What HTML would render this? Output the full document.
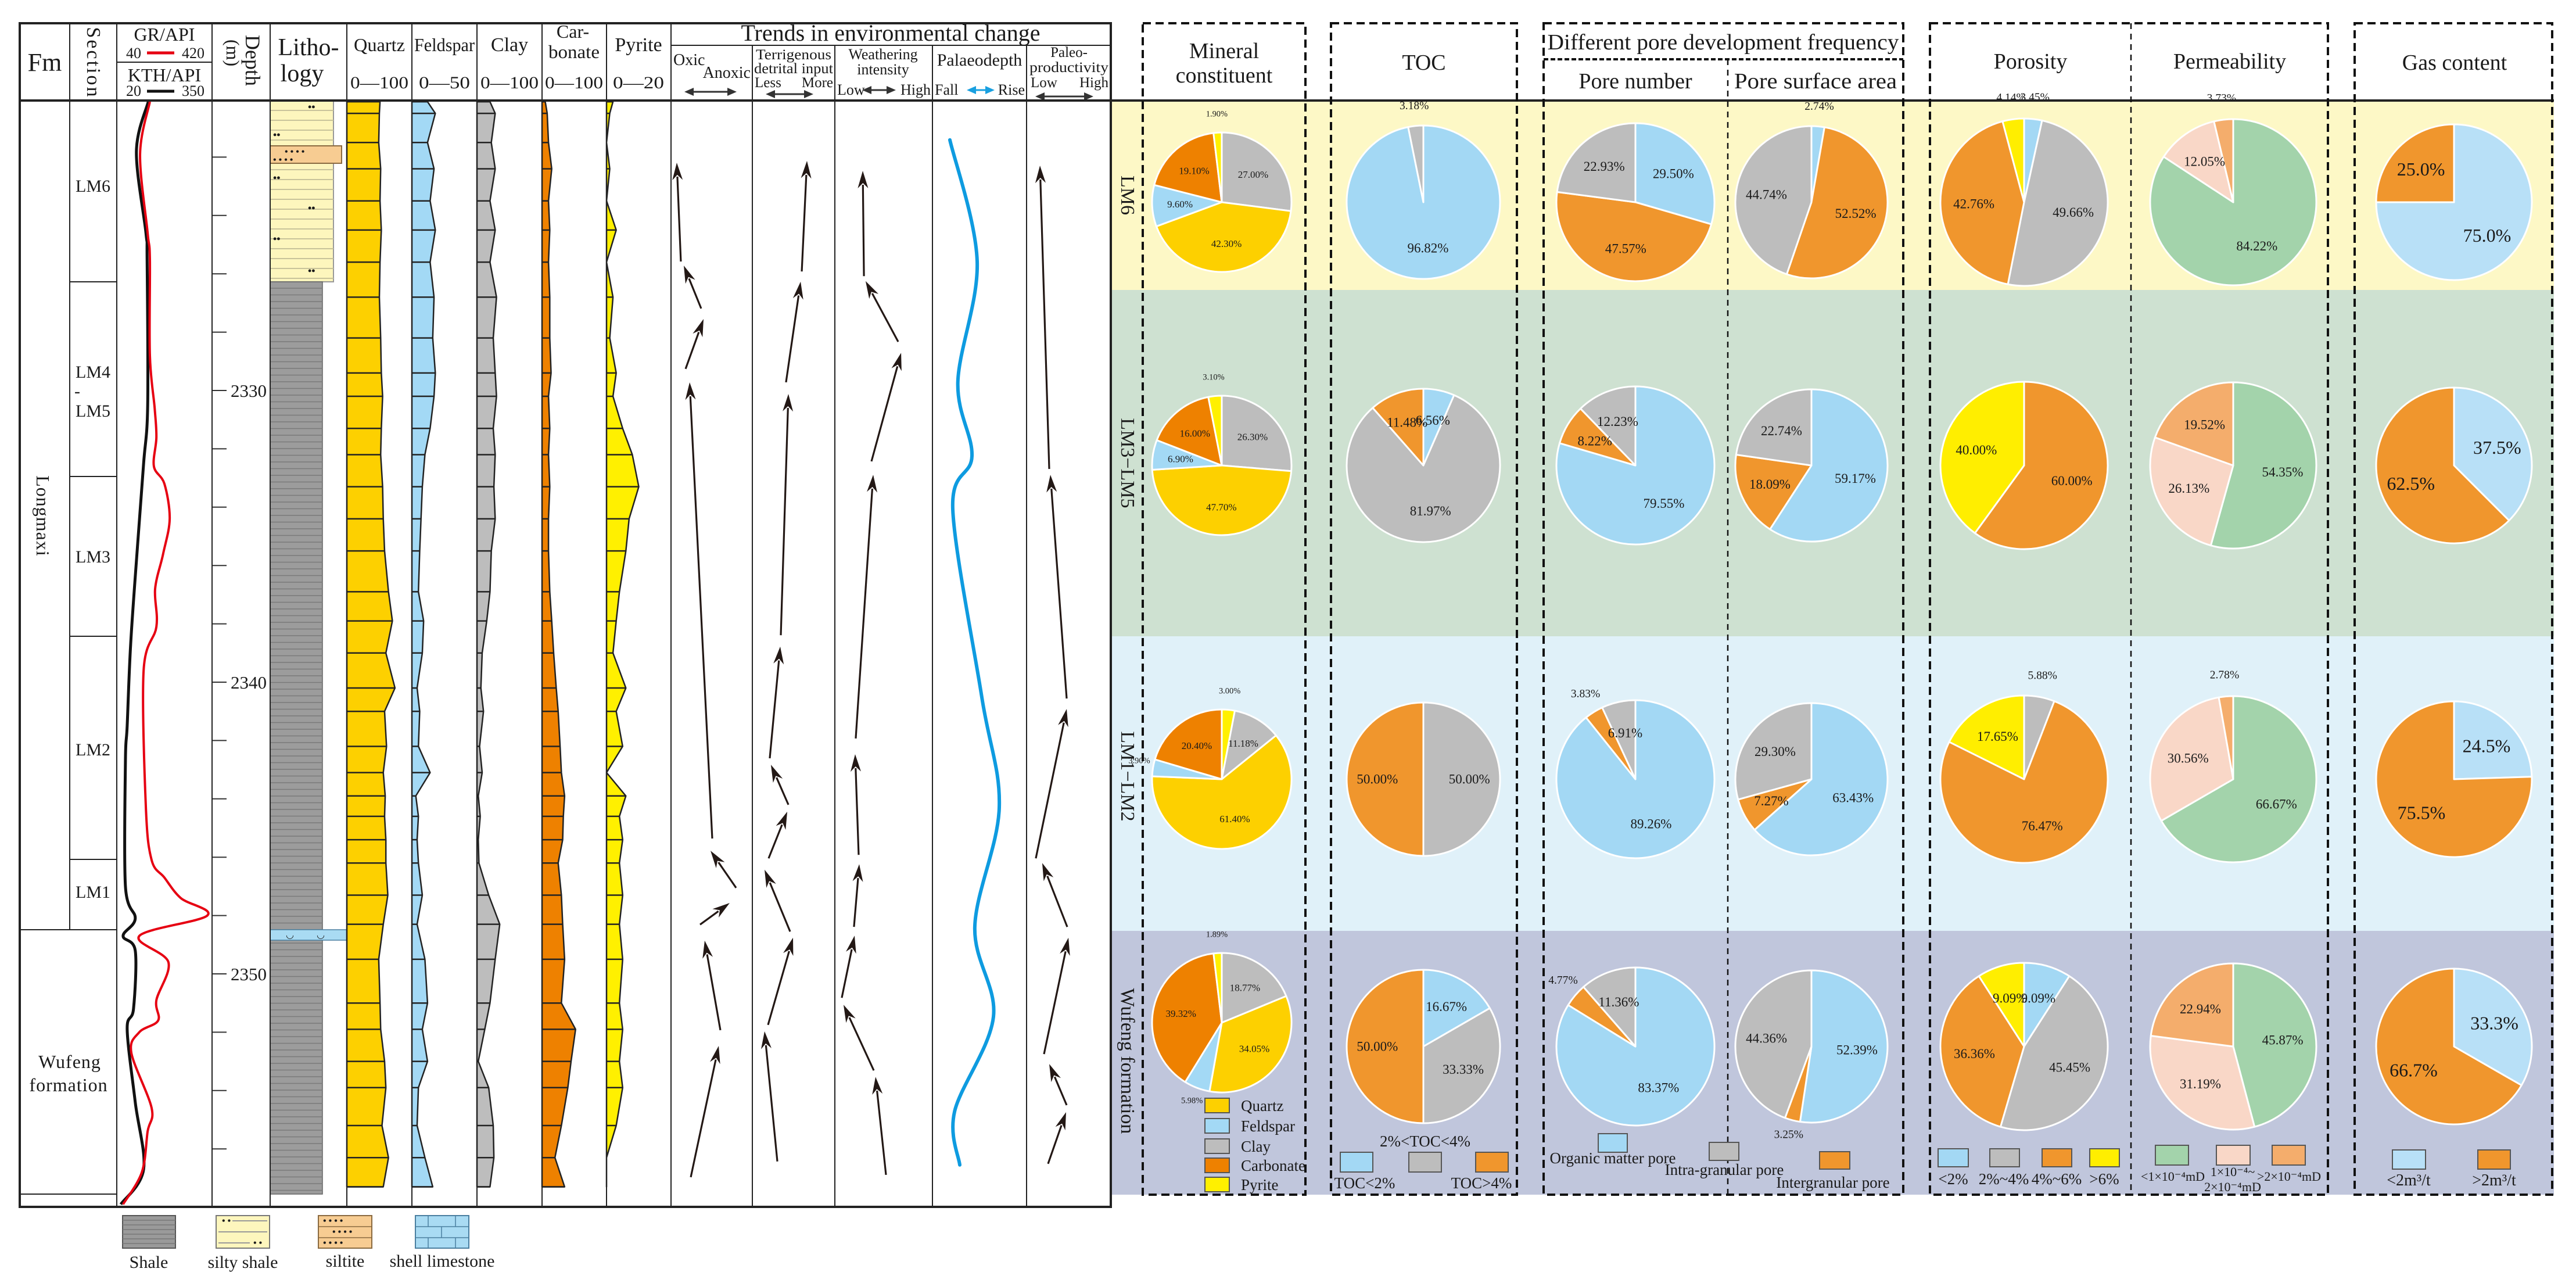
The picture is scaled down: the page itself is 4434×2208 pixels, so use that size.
<!DOCTYPE html>
<html>
<head>
<meta charset="utf-8">
<style>
  html,body{margin:0;padding:0;background:#fff;}
  svg{display:block;}
  text{font-family:"Liberation Serif",serif;fill:#1a1a1a;}
  .hd{font-size:34px;}
  .sm{font-size:26px;}
</style>
</head>
<body>
<svg id="fig" width="4434" height="2208" viewBox="0 0 4434 2208" xmlns="http://www.w3.org/2000/svg">
  <rect x="0" y="0" width="4434" height="2208" fill="#ffffff"/>
  <!-- right panel bands -->
  <g>
    <rect x="1913" y="173" width="2483" height="326" fill="#fdf8c6"/>
    <rect x="1913" y="499" width="2483" height="596" fill="#cee1d1"/>
    <rect x="1913" y="1095" width="2483" height="507" fill="#e0f1f9"/>
    <rect x="1913" y="1602" width="2483" height="454" fill="#c0c6dc"/>
  </g>
  <g id="layerLeft"></g>
  <g id="layerRight"></g>

  <!-- Left table frame -->
  <g stroke="#222" fill="none">
    <rect x="34" y="40" width="1878" height="2037" stroke-width="4"/>
    <line x1="34" y1="173" x2="4396" y2="173" stroke-width="4"/>
    <line x1="120" y1="40" x2="120" y2="1600" stroke-width="2"/>
    <line x1="201" y1="40" x2="201" y2="2077" stroke-width="2"/>
    <line x1="365" y1="40" x2="365" y2="2077" stroke-width="2"/>
    <line x1="465" y1="40" x2="465" y2="2077" stroke-width="2"/>
    <line x1="597" y1="40" x2="597" y2="2077" stroke-width="2"/>
    <line x1="709" y1="40" x2="709" y2="2077" stroke-width="2"/>
    <line x1="821" y1="40" x2="821" y2="2077" stroke-width="2"/>
    <line x1="933" y1="40" x2="933" y2="2077" stroke-width="2"/>
    <line x1="1044" y1="40" x2="1044" y2="2077" stroke-width="2"/>
    <line x1="1155" y1="40" x2="1155" y2="2077" stroke-width="2"/>
    <line x1="1295" y1="78" x2="1295" y2="2077" stroke-width="2"/>
    <line x1="1437" y1="78" x2="1437" y2="2077" stroke-width="2"/>
    <line x1="1605" y1="78" x2="1605" y2="2077" stroke-width="2"/>
    <line x1="1767" y1="78" x2="1767" y2="2077" stroke-width="2"/>
    <line x1="1155" y1="78" x2="1912" y2="78" stroke-width="2"/>
    <line x1="201" y1="107" x2="365" y2="107" stroke-width="2"/>
    <line x1="120" y1="485" x2="201" y2="485" stroke-width="2"/>
    <line x1="120" y1="820" x2="201" y2="820" stroke-width="2"/>
    <line x1="120" y1="1095" x2="201" y2="1095" stroke-width="2"/>
    <line x1="120" y1="1479" x2="201" y2="1479" stroke-width="2"/>
    <line x1="34" y1="1600" x2="201" y2="1600" stroke-width="2"/>
    <line x1="34" y1="2055" x2="201" y2="2055" stroke-width="2"/>
  </g>

  <!-- Left headers -->
  <g>
    <text x="77" y="122" font-size="44" text-anchor="middle">Fm</text>
    <text transform="translate(150,108) rotate(90)" font-size="34" text-anchor="middle" letter-spacing="3">Section</text>
    <text x="283" y="70" font-size="32" text-anchor="middle">GR/API</text>
    <text x="217" y="100" font-size="26">40</text>
    <line x1="253" y1="91" x2="300" y2="91" stroke="#e60012" stroke-width="5"/>
    <text x="313" y="100" font-size="26">420</text>
    <text x="283" y="140" font-size="32" text-anchor="middle">KTH/API</text>
    <text x="217" y="165" font-size="26">20</text>
    <line x1="253" y1="157" x2="300" y2="157" stroke="#111" stroke-width="5"/>
    <text x="313" y="165" font-size="26">350</text>
    <text transform="translate(423,60) rotate(90)" font-size="36">Depth</text>
    <text transform="translate(390,68) rotate(90)" font-size="32">(m)</text>
    <text x="531" y="95" font-size="42" text-anchor="middle">Litho-</text>
    <text x="520" y="140" font-size="42" text-anchor="middle">logy</text>
    <text x="653" y="88" font-size="32" text-anchor="middle" textLength="88" lengthAdjust="spacingAndGlyphs">Quartz</text>
    <text x="765" y="88" font-size="32" text-anchor="middle" textLength="104" lengthAdjust="spacingAndGlyphs">Feldspar</text>
    <text x="877" y="88" font-size="34" text-anchor="middle">Clay</text>
    <text x="986" y="65" font-size="32" text-anchor="middle">Car-</text>
    <text x="988" y="100" font-size="32" text-anchor="middle" textLength="88" lengthAdjust="spacingAndGlyphs">bonate</text>
    <text x="1099" y="88" font-size="34" text-anchor="middle">Pyrite</text>
    <text x="653" y="152" font-size="30" text-anchor="middle" textLength="100" lengthAdjust="spacingAndGlyphs">0—100</text>
    <text x="765" y="152" font-size="30" text-anchor="middle" textLength="88" lengthAdjust="spacingAndGlyphs">0—50</text>
    <text x="877" y="152" font-size="30" text-anchor="middle" textLength="100" lengthAdjust="spacingAndGlyphs">0—100</text>
    <text x="988" y="152" font-size="30" text-anchor="middle" textLength="100" lengthAdjust="spacingAndGlyphs">0—100</text>
    <text x="1099" y="152" font-size="30" text-anchor="middle" textLength="88" lengthAdjust="spacingAndGlyphs">0—20</text>
    <text x="1533" y="70" font-size="40" text-anchor="middle" textLength="515" lengthAdjust="spacingAndGlyphs">Trends in environmental change</text>
    <text x="1159" y="112" font-size="28">Oxic</text>
    <text x="1292" y="134" font-size="28" text-anchor="end">Anoxic</text>
    <text x="1366" y="102" font-size="25" text-anchor="middle" textLength="130" lengthAdjust="spacingAndGlyphs">Terrigenous</text>
    <text x="1366" y="126" font-size="25" text-anchor="middle" textLength="136" lengthAdjust="spacingAndGlyphs">detrital input</text>
    <text x="1299" y="150" font-size="25">Less</text>
    <text x="1434" y="150" font-size="25" text-anchor="end">More</text>
    <text x="1520" y="102" font-size="26" text-anchor="middle">Weathering</text>
    <text x="1520" y="128" font-size="26" text-anchor="middle">intensity</text>
    <text x="1441" y="163" font-size="26">Low</text>
    <text x="1602" y="163" font-size="26" text-anchor="end">High</text>
    <text x="1686" y="113" font-size="30" text-anchor="middle">Palaeodepth</text>
    <text x="1609" y="163" font-size="26">Fall</text>
    <text x="1764" y="163" font-size="26" text-anchor="end">Rise</text>
    <text x="1840" y="98" font-size="25" text-anchor="middle">Paleo-</text>
    <text x="1840" y="124" font-size="25" text-anchor="middle" textLength="136" lengthAdjust="spacingAndGlyphs">productivity</text>
    <text x="1774" y="150" font-size="25">Low</text>
    <text x="1908" y="150" font-size="25" text-anchor="end">High</text>
  </g>

  <!-- Section labels -->
  <g font-size="30">
    <text x="160" y="330" text-anchor="middle">LM6</text>
    <text x="160" y="650" text-anchor="middle">LM4</text>
    <text x="133" y="683" text-anchor="middle">-</text>
    <text x="160" y="717" text-anchor="middle">LM5</text>
    <text x="160" y="968" text-anchor="middle">LM3</text>
    <text x="160" y="1300" text-anchor="middle">LM2</text>
    <text x="160" y="1545" text-anchor="middle">LM1</text>
    <text transform="translate(63,888) rotate(90)" text-anchor="middle" font-size="32" letter-spacing="1">Longmaxi</text>
    <text x="120" y="1838" text-anchor="middle" font-size="32" letter-spacing="1">Wufeng</text>
    <text x="118" y="1878" text-anchor="middle" font-size="32" letter-spacing="1">formation</text>
  </g>

  <!-- Lithology legend -->
  <g>
    <g>
      <rect x="211" y="2092" width="91" height="56" fill="#9a9a9a" stroke="#555" stroke-width="2"/>
      <g id="shaleLegLines"></g>
      <text x="256" y="2182" font-size="30" text-anchor="middle">Shale</text>
    </g>
    <g>
      <rect x="372" y="2092" width="92" height="56" fill="#fdf6bd" stroke="#777" stroke-width="2"/>
      <line x1="400" y1="2101" x2="460" y2="2101" stroke="#999" stroke-width="2"/>
      <line x1="376" y1="2120" x2="460" y2="2120" stroke="#999" stroke-width="2"/>
      <line x1="376" y1="2139" x2="430" y2="2139" stroke="#999" stroke-width="2"/>
      <text x="382" y="2106" font-size="16" font-weight="bold">• •</text>
      <text x="436" y="2144" font-size="16" font-weight="bold">• •</text>
      <text x="418" y="2182" font-size="30" text-anchor="middle">silty shale</text>
    </g>
    <g>
      <rect x="548" y="2092" width="92" height="56" fill="#f7cc92" stroke="#8a6a40" stroke-width="2"/>
      <line x1="548" y1="2111" x2="640" y2="2111" stroke="#8a6a40" stroke-width="1.5"/>
      <line x1="548" y1="2130" x2="640" y2="2130" stroke="#8a6a40" stroke-width="1.5"/>
      <text x="556" y="2106" font-size="16" font-weight="bold">• •  • •</text>
      <text x="572" y="2125" font-size="16" font-weight="bold">• •  • •</text>
      <text x="556" y="2144" font-size="16" font-weight="bold">• •  • •</text>
      <text x="594" y="2180" font-size="30" text-anchor="middle">siltite</text>
    </g>
    <g>
      <rect x="715" y="2092" width="92" height="56" fill="#a9dbf3" stroke="#4a7fa0" stroke-width="2"/>
      <line x1="715" y1="2111" x2="807" y2="2111" stroke="#4a7fa0" stroke-width="1.5"/>
      <line x1="715" y1="2130" x2="807" y2="2130" stroke="#4a7fa0" stroke-width="1.5"/>
      <line x1="737" y1="2092" x2="737" y2="2111" stroke="#4a7fa0" stroke-width="1.5"/>
      <line x1="784" y1="2092" x2="784" y2="2111" stroke="#4a7fa0" stroke-width="1.5"/>
      <line x1="760" y1="2111" x2="760" y2="2130" stroke="#4a7fa0" stroke-width="1.5"/>
      <line x1="737" y1="2130" x2="737" y2="2148" stroke="#4a7fa0" stroke-width="1.5"/>
      <line x1="784" y1="2130" x2="784" y2="2148" stroke="#4a7fa0" stroke-width="1.5"/>
      <text x="761" y="2180" font-size="30" text-anchor="middle">shell limestone</text>
    </g>
  </g>

  <!-- Right panel dashed boxes -->
  <g fill="none" stroke="#111">
    <rect x="1967" y="40" width="280" height="2016" stroke-width="4" stroke-dasharray="14 8"/>
    <rect x="2291" y="40" width="320" height="2016" stroke-width="4" stroke-dasharray="14 8"/>
    <rect x="2657" y="40" width="619" height="2016" stroke-width="4" stroke-dasharray="14 8"/>
    <rect x="3322" y="40" width="685" height="2016" stroke-width="4" stroke-dasharray="14 8"/>
    <rect x="4053" y="40" width="340" height="2016" stroke-width="4" stroke-dasharray="14 8"/>
    <line x1="2974" y1="102" x2="2974" y2="2056" stroke-width="2.5" stroke-dasharray="10 8"/>
    <line x1="3668" y1="40" x2="3668" y2="2056" stroke-width="2.5" stroke-dasharray="10 8"/>
    <line x1="2657" y1="102" x2="3276" y2="102" stroke-width="4" stroke-dasharray="8 4"/>
  </g>
  <g font-size="38">
    <text x="2107" y="100" text-anchor="middle">Mineral</text>
    <text x="2107" y="142" text-anchor="middle">constituent</text>
    <text x="2451" y="120" text-anchor="middle">TOC</text>
    <text x="2966" y="85" text-anchor="middle" textLength="605" lengthAdjust="spacingAndGlyphs">Different pore development frequency</text>
    <text x="2815" y="152" text-anchor="middle">Pore number</text>
    <text x="3125" y="152" text-anchor="middle" textLength="280" lengthAdjust="spacingAndGlyphs">Pore surface area</text>
    <text x="3495" y="118" text-anchor="middle">Porosity</text>
    <text x="3838" y="118" text-anchor="middle">Permeability</text>
    <text x="4225" y="120" text-anchor="middle">Gas content</text>
  </g>
  <g font-size="34">
    <text transform="translate(1930,336) rotate(90)" text-anchor="middle">LM6</text>
    <text transform="translate(1930,797) rotate(90)" text-anchor="middle">LM3−LM5</text>
    <text transform="translate(1930,1336) rotate(90)" text-anchor="middle">LM1−LM2</text>
    <text transform="translate(1930,1826) rotate(90)" text-anchor="middle">Wufeng formation</text>
  </g>

  <!-- Pie legends -->
  <g font-size="27">
    <rect x="2074" y="1890" width="42" height="25" fill="#fdd000" stroke="#555" stroke-width="2"/><text x="2136" y="1912">Quartz</text>
    <rect x="2074" y="1925" width="42" height="25" fill="#a3d9f5" stroke="#555" stroke-width="2"/><text x="2136" y="1947">Feldspar</text>
    <rect x="2074" y="1960" width="42" height="25" fill="#bdbdbd" stroke="#555" stroke-width="2"/><text x="2136" y="1982">Clay</text>
    <rect x="2074" y="1993" width="42" height="25" fill="#ee8100" stroke="#555" stroke-width="2"/><text x="2136" y="2015">Carbonate</text>
    <rect x="2074" y="2026" width="42" height="25" fill="#fff000" stroke="#555" stroke-width="2"/><text x="2136" y="2048">Pyrite</text>
  </g>
  <g font-size="27">
    <rect x="2307" y="1983" width="56" height="34" fill="#a3d8f4" stroke="#555" stroke-width="2"/>
    <rect x="2425" y="1983" width="56" height="34" fill="#bdbdbd" stroke="#555" stroke-width="2"/>
    <rect x="2540" y="1983" width="56" height="34" fill="#f0962d" stroke="#555" stroke-width="2"/>
    <text x="2453" y="1973" text-anchor="middle">2%&lt;TOC&lt;4%</text>
    <text x="2349" y="2045" text-anchor="middle">TOC&lt;2%</text>
    <text x="2550" y="2045" text-anchor="middle">TOC&gt;4%</text>
  </g>
  <g font-size="27">
    <rect x="2751" y="1951" width="50" height="32" fill="#a3d8f4" stroke="#555" stroke-width="2"/>
    <text x="2776" y="2002" text-anchor="middle">Organic matter pore</text>
    <rect x="2942" y="1966" width="51" height="31" fill="#bdbdbd" stroke="#555" stroke-width="2"/>
    <text x="2968" y="2022" text-anchor="middle">Intra-granular pore</text>
    <rect x="3132" y="1982" width="52" height="30" fill="#f0962d" stroke="#555" stroke-width="2"/>
    <text x="3155" y="2044" text-anchor="middle">Intergranular pore</text>
  </g>
  <g font-size="27">
    <rect x="3336" y="1977" width="52" height="31" fill="#a3d8f4" stroke="#555" stroke-width="2"/>
    <rect x="3425" y="1977" width="51" height="31" fill="#bdbdbd" stroke="#555" stroke-width="2"/>
    <rect x="3515" y="1977" width="51" height="31" fill="#f0962d" stroke="#555" stroke-width="2"/>
    <rect x="3597" y="1977" width="51" height="31" fill="#ffee00" stroke="#555" stroke-width="2"/>
    <text x="3362" y="2038" text-anchor="middle">&lt;2%</text>
    <text x="3449" y="2038" text-anchor="middle">2%~4%</text>
    <text x="3540" y="2038" text-anchor="middle">4%~6%</text>
    <text x="3622" y="2038" text-anchor="middle">&gt;6%</text>
  </g>
  <g font-size="22">
    <rect x="3710" y="1971" width="57" height="34" fill="#a3d3ab" stroke="#555" stroke-width="2"/>
    <rect x="3815" y="1971" width="58" height="34" fill="#f9d7c7" stroke="#555" stroke-width="2"/>
    <rect x="3911" y="1971" width="57" height="34" fill="#f4ad6c" stroke="#555" stroke-width="2"/>
    <text x="3740" y="2032" text-anchor="middle">&lt;1×10⁻⁴mD</text>
    <text x="3843" y="2024" text-anchor="middle">1×10⁻⁴~</text>
    <text x="3843" y="2050" text-anchor="middle">2×10⁻⁴mD</text>
    <text x="3940" y="2032" text-anchor="middle">&gt;2×10⁻⁴mD</text>
  </g>
  <g font-size="28">
    <rect x="4118" y="1979" width="57" height="33" fill="#b8e0f7" stroke="#555" stroke-width="2"/>
    <rect x="4265" y="1979" width="56" height="33" fill="#f0962d" stroke="#555" stroke-width="2"/>
    <text x="4146" y="2040" text-anchor="middle">&lt;2m³/t</text>
    <text x="4293" y="2040" text-anchor="middle">&gt;2m³/t</text>
  </g>
</svg>

<script>
// ---------- DATA ----------
// Sample depths (m) for the mineral columns
const sampleDepths = [2320.1,2320.5,2321.5,2322.4,2323.5,2324.5,2325.6,2326.8,2328.2,2329.4,2330.2,2331.3,2332.2,2333.3,2334.4,2335.5,2336.9,2337.9,2339.0,2340.2,2341.0,2342.2,2343.1,2343.9,2344.6,2345.4,2346.2,2347.3,2348.3,2349.5,2351.0,2351.9,2353.0,2353.9,2355.2,2356.3,2357.3];
const quartzPct    = [51,50,49,52,51,53,51,50,52,53,55,53,52,55,56,58,64,70,60,74,58,61,56,59,58,60,60,63,56,49,51,52,58,60,54,64,56];
const feldsparPct  = [12,18,12,17,14,18,14,17,16,18,17,14,10,8,7,6,5,9,8,4,6,5,14,3,5,4,5,8,4,10,12,8,12,5,4,10,16];
const clayPct      = [20,28,22,28,20,28,20,30,25,28,30,25,28,26,28,22,20,15,8,6,10,4,8,2,5,2,3,18,35,28,20,12,2,18,25,26,20];
const carbonatePct = [5,8,10,15,10,12,10,12,12,14,10,12,10,12,10,10,12,15,18,22,25,28,30,35,33,32,25,30,32,35,30,52,45,40,30,20,35];
const pyritePct    = [2,1,0,1,0,3,0,2,1,3,2,5,8,10,7,6,4,3,2,6,3,5,0,6,4,5,4,5,4,5,4,5,4,5,3,0,0];
// Logs
const grDepths = [2320.1,2321.9,2324.6,2325.5,2328.8,2330.6,2331.6,2332.6,2333.2,2334.4,2335.6,2336.8,2338.1,2339.6,2344.3,2346.1,2346.7,2347.4,2348.0,2348.7,2349.6,2350.9,2351.6,2352.0,2352.7,2354.6,2355.4,2356.8,2357.9];
const grValues = [172,133,163,172,172,191,198,188,230,251,225,193,198,147,156,179,230,295,401,130,246,198,205,130,98,179,163,140,65];
const kthDepths = [2320.1,2321.8,2324.6,2325.5,2330.5,2332.5,2335.3,2338.7,2341.5,2342.7,2347.0,2348.1,2348.7,2349.2,2351.2,2351.9,2354.4,2356.7,2357.9];
const kthValues = [129,88,121,125,127,113,92,68,56,50,50,84,42,84,78,56,84,113,34];
const depthTicks = [2322,2324,2326,2328,2330,2332,2334,2336,2338,2340,2342,2344,2346,2348,2350,2352,2354,2356];
const depthLabels = [2330,2340,2350];
// Trend arrows: [fromDepth, fromPos(0-1), toDepth, toPos(0-1)]
const redoxArrows = [[2325.58,.121,2322.19,.071],[2327.19,.371,2325.72,.157],[2329.26,.179,2327.55,.400],[2345.36,.507,2329.72,.229],[2347.05,.800,2345.78,.486],[2348.31,.357,2347.57,.721],[2351.93,.607,2348.86,.414],[2356.97,.243,2352.47,.586]];
const terrigenousArrows = [[2325.92,.599,2322.13,.662],[2329.72,.408,2326.27,.585],[2338.39,.345,2330.12,.437],[2342.61,.211,2338.78,.338],[2344.20,.437,2342.83,.225],[2346.04,.197,2344.44,.423],[2348.55,.458,2346.43,.148],[2351.75,.190,2348.76,.493],[2356.43,.303,2351.97,.148]];
const weatheringArrows = [[2326.08,.298,2322.47,.286],[2328.33,.649,2326.25,.315],[2332.43,.375,2328.71,.679],[2341.93,.214,2332.89,.393],[2345.92,.244,2342.47,.208],[2348.39,.196,2346.24,.250],[2350.82,.071,2348.69,.202],[2353.31,.399,2351.06,.089],[2356.89,.524,2353.53,.417]];
const productivityArrows = [[2332.69,.269,2322.29,.159],[2340.56,.476,2332.89,.283],[2346.04,.110,2340.92,.476],[2348.39,.483,2346.20,.186],[2352.75,.207,2348.76,.497],[2354.50,.476,2353.09,.269],[2356.51,.255,2354.74,.469]];
const palaeoDepths = [2321.41,2325.58,2329.72,2332.25,2334.08,2340.52,2344.30,2348.39,2351.47,2354.72,2356.55];
const palaeoLevel  = [.185,.475,.27,.42,.216,.525,.71,.45,.648,.235,.29];
// Pie data (bands: LM6, LM3-LM5, LM1-LM2, Wufeng)
const mineralCats = ['Quartz','Feldspar','Clay','Carbonate','Pyrite'];
const mineralLM6 = [42.30,9.60,27.00,19.10,1.90];
const mineralLM35 = [47.70,6.90,26.30,16.00,3.10];
const mineralLM12 = [61.40,3.90,11.18,20.40,3.00];
const mineralWF = [34.05,5.98,18.77,39.32,1.89];
const tocCats = ['TOC<2%','2%<TOC<4%','TOC>4%'];
const tocLM6 = [96.82,3.18,0];
const tocLM35 = [6.56,81.97,11.48];
const tocLM12 = [0,50.00,50.00];
const tocWF = [16.67,33.33,50.00];
const poreCats = ['Organic matter pore','Intra-granular pore','Intergranular pore'];
const poreNumLM6 = [29.50,22.93,47.57];
const poreNumLM35 = [79.55,12.23,8.22];
const poreNumLM12 = [89.26,6.91,3.83];
const poreNumWF = [83.37,11.36,4.77];
const poreAreaLM6 = [2.74,44.74,52.52];
const poreAreaLM35 = [59.17,22.74,18.09];
const poreAreaLM12 = [63.43,29.30,7.27];
const poreAreaWF = [52.39,44.36,3.25];
const porosityCats = ['<2%','2%~4%','4%~6%','>6%'];
const porosityLM6 = [3.45,49.66,42.76,4.14];
const porosityLM35 = [0,0,60.00,40.00];
const porosityLM12 = [0,5.88,76.47,17.65];
const porosityWF = [9.09,45.45,36.36,9.09];
const permCats = ['<1e-4 mD','1e-4~2e-4 mD','>2e-4 mD'];
const permLM6 = [84.22,12.05,3.73];
const permLM35 = [54.35,26.13,19.52];
const permLM12 = [66.67,30.56,2.78];
const permWF = [45.87,31.19,22.94];
const gasCats = ['<2m3/t','>2m3/t'];
const gasLM6 = [75.0,25.0];
const gasLM35 = [37.5,62.5];
const gasLM12 = [24.5,75.5];
const gasWF = [33.3,66.7];

// ---------- DRAWING ----------
const NS = 'http://www.w3.org/2000/svg';
const L = document.getElementById('layerLeft');
const R = document.getElementById('layerRight');
function mk(tag, parent){ const e=document.createElementNS(NS,tag); parent.appendChild(e); return e; }
function yOf(d){ return 1174 + (d-2340)*50.2; }

// Lithology
(function(){
  let el = mk('rect', L);
  el.setAttribute('x',465); el.setAttribute('y',174); el.setAttribute('width',109); el.setAttribute('height',311);
  el.setAttribute('fill','#fdf6bd'); el.setAttribute('stroke','#999'); el.setAttribute('stroke-width',2);
  
  
  for(let y=190;y<485;y+=17){
    const ln = mk('line', L);
    ln.setAttribute('x1',465); ln.setAttribute('x2',574); ln.setAttribute('y1',y); ln.setAttribute('y2',y);
    ln.setAttribute('stroke','#c8c39a'); ln.setAttribute('stroke-width',2);
    
    
  }
  const dots=[[530,190],[470,238],[470,312],[530,364],[470,417],[530,472]];
  dots.forEach(p=>{ const t=mk('text',L); t.setAttribute('x',p[0]); t.setAttribute('y',p[1]); t.setAttribute('font-size',18); t.setAttribute('font-weight','bold'); t.textContent='••';
    
     });
  el = mk('rect', L);
  el.setAttribute('x',465); el.setAttribute('y',251); el.setAttribute('width',123); el.setAttribute('height',30);
  el.setAttribute('fill','#f7cc92'); el.setAttribute('stroke','#8a6a40'); el.setAttribute('stroke-width',2);
  
  
  const sd=mk('text',L); sd.setAttribute('x',490); sd.setAttribute('y',266); sd.setAttribute('font-size',16); sd.setAttribute('font-weight','bold'); sd.textContent='• •   • •';
  
  
  const sd2=mk('text',L); sd2.setAttribute('x',470); sd2.setAttribute('y',280); sd2.setAttribute('font-size',16); sd2.setAttribute('font-weight','bold'); sd2.textContent='• •   • •';
  
  
  el = mk('rect', L);
  el.setAttribute('x',465); el.setAttribute('y',485); el.setAttribute('width',90); el.setAttribute('height',1570);
  el.setAttribute('fill','#9c9c9c'); el.setAttribute('stroke','#666'); el.setAttribute('stroke-width',1.5);
  
  
  for(let y=496;y<2055;y+=11.5){
    const ln = mk('line', L);
    ln.setAttribute('x1',465); ln.setAttribute('x2',555); ln.setAttribute('y1',y); ln.setAttribute('y2',y);
    ln.setAttribute('stroke','#7a7a7a'); ln.setAttribute('stroke-width',1.6);
    
    
  }
  el = mk('rect', L);
  el.setAttribute('x',465); el.setAttribute('y',1600); el.setAttribute('width',132); el.setAttribute('height',18);
  el.setAttribute('fill','#a9dbf3'); el.setAttribute('stroke','#4a7fa0'); el.setAttribute('stroke-width',1.5);
  
  
  [492,545].forEach(x=>{ const t=mk('text',L); t.setAttribute('x',x); t.setAttribute('y',1614); t.setAttribute('font-size',16); t.textContent='◡';
    
     });
  const g=document.getElementById('shaleLegLines');
  for(let y=2100;y<2148;y+=8){ const ln=mk('line',g); ln.setAttribute('x1',211); ln.setAttribute('x2',302); ln.setAttribute('y1',y); ln.setAttribute('y2',y); ln.setAttribute('stroke','#777'); ln.setAttribute('stroke-width',1.5);
    
     }
})();

// Depth ticks
depthTicks.forEach(d=>{
  const t = mk('line', L);
  t.setAttribute('x1',365); t.setAttribute('x2',390); t.setAttribute('y1',yOf(d)); t.setAttribute('y2',yOf(d));
  t.setAttribute('stroke','#333'); t.setAttribute('stroke-width',2);
  
  
});
depthLabels.forEach(d=>{
  const t = mk('text', L);
  t.setAttribute('x',397); t.setAttribute('y',yOf(d)+11); t.setAttribute('font-size',31); t.textContent=d;
  
  
});

// Mineral columns
function drawColumn(vals, x0, w, max, fill, name){
  const pts=[[x0,yOf(sampleDepths[0])]];
  vals.forEach((v,i)=>pts.push([x0+v*w/max, yOf(sampleDepths[i])]));
  pts.push([x0,yOf(sampleDepths[sampleDepths.length-1])]);
  const p = mk('polygon', L);
  p.setAttribute('points', pts.map(q=>q.join(',')).join(' '));
  p.setAttribute('fill',fill); p.setAttribute('stroke','#222'); p.setAttribute('stroke-width',2.5); p.setAttribute('stroke-linejoin','round');
  
  
  vals.forEach((v,i)=>{
    const ln = mk('line', L);
    ln.setAttribute('x1',x0); ln.setAttribute('x2',x0+v*w/max); ln.setAttribute('y1',yOf(sampleDepths[i])); ln.setAttribute('y2',yOf(sampleDepths[i]));
    ln.setAttribute('stroke','#222'); ln.setAttribute('stroke-width',2.5);
    
    
  });
}
drawColumn(quartzPct, 597, 112, 100, '#fdd000', 'quartz');
drawColumn(feldsparPct, 709, 112, 50, '#a3d9f5', 'feldspar');
drawColumn(clayPct, 821, 112, 100, '#bdbdbd', 'clay');
drawColumn(carbonatePct, 933, 111, 100, '#ee8100', 'carbonate');
drawColumn(pyritePct, 1044, 111, 20, '#fff000', 'pyrite');

// Logs
function smoothPath(pts){
  let d='M'+pts[0][0]+','+pts[0][1];
  for(let i=0;i<pts.length-1;i++){
    const p0=pts[Math.max(0,i-1)], p1=pts[i], p2=pts[i+1], p3=pts[Math.min(pts.length-1,i+2)];
    const c1=[p1[0]+(p2[0]-p0[0])/6, p1[1]+(p2[1]-p0[1])/6];
    const c2=[p2[0]-(p3[0]-p1[0])/6, p2[1]-(p3[1]-p1[1])/6];
    d+=' C'+c1[0].toFixed(1)+','+c1[1].toFixed(1)+' '+c2[0].toFixed(1)+','+c2[1].toFixed(1)+' '+p2[0].toFixed(1)+','+p2[1].toFixed(1);
  }
  return d;
}
const kthPts = kthValues.map((v,i)=>[201+(v-20)/330*164, yOf(kthDepths[i])]);
const kth = mk('path', L);
kth.setAttribute('d', smoothPath(kthPts)); kth.setAttribute('fill','none'); kth.setAttribute('stroke','#111'); kth.setAttribute('stroke-width',5);


const grPts = grValues.map((v,i)=>[201+(v-40)/380*164, yOf(grDepths[i])]);
const gr = mk('path', L);
gr.setAttribute('d', smoothPath(grPts)); gr.setAttribute('fill','none'); gr.setAttribute('stroke','#e60012'); gr.setAttribute('stroke-width',4);



// Arrows
function arrow(x1,y1,x2,y2,parent,color,name){
  const dx=x2-x1, dy=y2-y1, len=Math.hypot(dx,dy), ux=dx/len, uy=dy/len;
  const hl=30, hw=9;
  const bx=x2-ux*hl, by=y2-uy*hl;
  const ln = mk('line', parent);
  ln.setAttribute('x1',x1); ln.setAttribute('y1',y1); ln.setAttribute('x2',bx+ux*6); ln.setAttribute('y2',by+uy*6);
  ln.setAttribute('stroke',color); ln.setAttribute('stroke-width',3.2);
  
  
  const hd = mk('polygon', parent);
  hd.setAttribute('points', x2+','+y2+' '+(bx-uy*hw)+','+(by+ux*hw)+' '+(x2-ux*hl*0.7)+','+(y2-uy*hl*0.7)+' '+(bx+uy*hw)+','+(by-ux*hw));
  hd.setAttribute('fill',color);
  
  
}
function drawTrend(arr, x0, w, name){
  arr.forEach(a=>arrow(x0+a[1]*w, yOf(a[0]), x0+a[3]*w, yOf(a[2]), L, '#231815', name));
}
drawTrend(redoxArrows, 1155, 140, 'redox-arrow');
drawTrend(terrigenousArrows, 1295, 142, 'terrigenous-arrow');
drawTrend(weatheringArrows, 1437, 168, 'weathering-arrow');
drawTrend(productivityArrows, 1767, 145, 'productivity-arrow');

// header double arrows
function dbl(x1,x2,y,color,name){
  const ln=mk('line',L); ln.setAttribute('x1',x1+8); ln.setAttribute('x2',x2-8); ln.setAttribute('y1',y); ln.setAttribute('y2',y); ln.setAttribute('stroke',color); ln.setAttribute('stroke-width',3);
  
  
  const h1=mk('polygon',L); h1.setAttribute('points',x1+','+y+' '+(x1+16)+','+(y-7)+' '+(x1+16)+','+(y+7)); h1.setAttribute('fill',color);
  
  
  const h2=mk('polygon',L); h2.setAttribute('points',x2+','+y+' '+(x2-16)+','+(y-7)+' '+(x2-16)+','+(y+7)); h2.setAttribute('fill',color);
  
  
}
dbl(1178,1268,158,'#333','redox-scale-arrow');
dbl(1318,1400,162,'#333','terrigenous-scale-arrow');
dbl(1484,1542,155,'#333','weathering-scale-arrow');
dbl(1664,1712,155,'#19a0e0','palaeodepth-scale-arrow');
dbl(1782,1882,166,'#333','productivity-scale-arrow');

// Palaeodepth curve
const pdPts = palaeoLevel.map((v,i)=>[1605+v*162, yOf(palaeoDepths[i])]);
const pd = mk('path', L);
pd.setAttribute('d', smoothPath(pdPts)); pd.setAttribute('fill','none'); pd.setAttribute('stroke','#0e9be0'); pd.setAttribute('stroke-width',6); pd.setAttribute('stroke-linecap','round');



// Pies
function pie(values, colors, order, cx, cy, r, fs, dec, name){
  const total = values.reduce((a,b)=>a+b,0);
  let acc = 0;
  order.forEach(i=>{
    const v = values[i];
    if(v<=0){ return; }
    const a0 = acc/total*2*Math.PI - Math.PI/2;
    acc += v;
    const a1 = acc/total*2*Math.PI - Math.PI/2;
    const s = mk('path', R);
    if(v>=total-1e-6){
      s.setAttribute('d','M'+(cx-r)+','+cy+' a'+r+','+r+' 0 1,0 '+(2*r)+',0 a'+r+','+r+' 0 1,0 '+(-2*r)+',0');
    } else {
      const large = (a1-a0)>Math.PI?1:0;
      s.setAttribute('d','M'+cx+','+cy+' L'+(cx+r*Math.cos(a0)).toFixed(2)+','+(cy+r*Math.sin(a0)).toFixed(2)+' A'+r+','+r+' 0 '+large+',1 '+(cx+r*Math.cos(a1)).toFixed(2)+','+(cy+r*Math.sin(a1)).toFixed(2)+' Z');
    }
    s.setAttribute('fill', colors[i]); s.setAttribute('stroke','#ffffff'); s.setAttribute('stroke-width',3); s.setAttribute('stroke-linejoin','round');
    
    
  });
  acc = 0;
  order.forEach(i=>{
    const v = values[i];
    if(v<=0){ return; }
    const am = (acc+v/2)/total*2*Math.PI - Math.PI/2;
    acc += v;
    const small = v/total < 0.065;
    const rr = small ? r*1.2 : r*0.6;
    const t = mk('text', R);
    t.setAttribute('x',(cx+rr*Math.cos(am)).toFixed(1));
    t.setAttribute('y',(cy+rr*Math.sin(am)-(small&&Math.sin(am)<0?8:0)).toFixed(1));
    t.setAttribute('font-size', small? fs*0.85 : fs);
    t.setAttribute('text-anchor','middle'); t.setAttribute('dominant-baseline','central');
    t.textContent = v.toFixed(dec)+'%';
    
    
  });
}
const bandY = [348,801,1341,1801];
const minColors = ['#fdd000','#a3d9f5','#bdbdbd','#ee8100','#fff000'];
const tocColors = ['#a3d8f4','#bdbdbd','#f0962d'];
const poreColors = ['#a3d8f4','#bdbdbd','#f0962d'];
const poroColors = ['#a3d8f4','#bdbdbd','#f0962d','#ffee00'];
const permColors = ['#a3d3ab','#f9d7c7','#f4ad6c'];
const gasColors = ['#b8e0f7','#f0962d'];
const mStd=[2,0,1,3,4], mAlt=[4,2,0,1,3];
[[mineralLM6,mStd],[mineralLM35,mStd],[mineralLM12,mAlt],[mineralWF,mStd]].forEach((m,b)=>pie(m[0],minColors,m[1],2103,b===3?1760:bandY[b],120,17,2,'mineral-pie'));
[tocLM6,tocLM35,tocLM12,tocWF].forEach((v,b)=>pie(v,tocColors,[0,1,2],2450,bandY[b],132,23,2,'toc-pie'));
[poreNumLM6,poreNumLM35,poreNumLM12,poreNumWF].forEach((v,b)=>pie(v,poreColors,[0,2,1],2815,bandY[b],136,23,2,'pore-number-pie'));
[poreAreaLM6,poreAreaLM35,poreAreaLM12,poreAreaWF].forEach((v,b)=>pie(v,poreColors,[0,2,1],3118,bandY[b],131,23,2,'pore-area-pie'));
[porosityLM6,porosityLM35,porosityLM12,porosityWF].forEach((v,b)=>pie(v,poroColors,[0,1,2,3],3484,bandY[b],144,23,2,'porosity-pie'));
[permLM6,permLM35,permLM12,permWF].forEach((v,b)=>pie(v,permColors,[0,1,2],3844,bandY[b],143,23,2,'permeability-pie'));
[gasLM6,gasLM35,gasLM12,gasWF].forEach((v,b)=>pie(v,gasColors,[0,1],4224,bandY[b],134,32,1,'gas-pie'));
</script>
</body>
</html>
